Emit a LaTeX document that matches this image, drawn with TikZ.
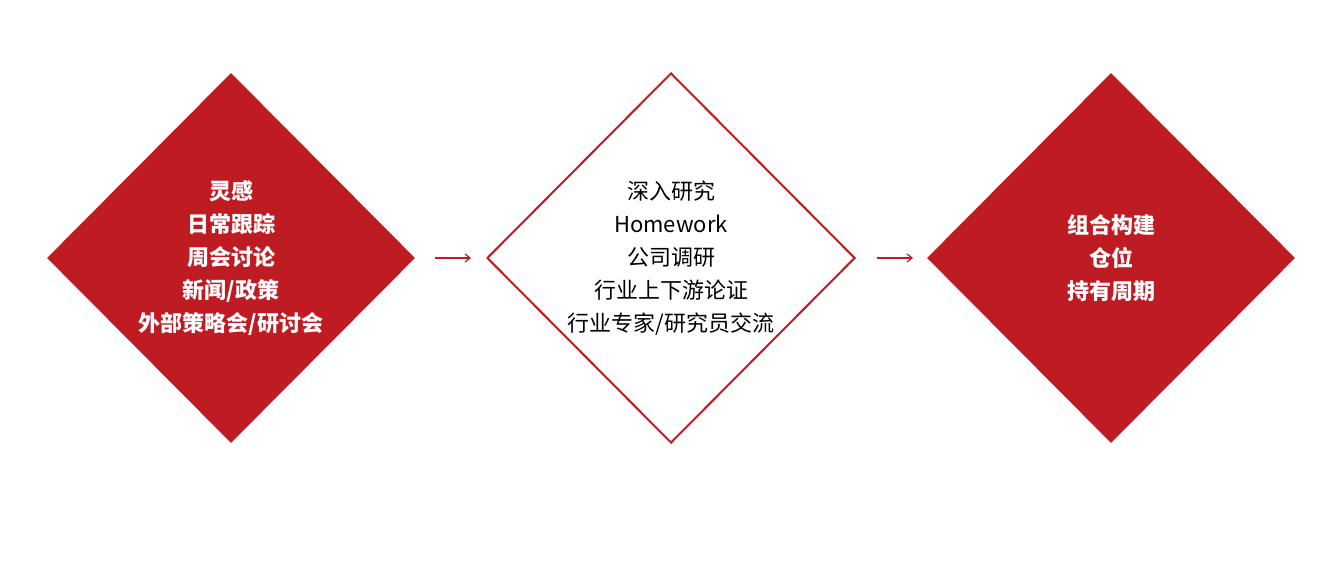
\documentclass[tikz,border=0pt]{standalone}
\usepackage{fontspec}
\setmainfont{Noto Sans CJK SC}
\usetikzlibrary{shapes.geometric,arrows.meta}
\definecolor{dred}{HTML}{BE1C22}
\begin{document}
\begin{tikzpicture}[x=1pt,y=-1pt,
  dia/.style={diamond,inner sep=0pt,minimum width=368pt,minimum height=370pt,align=center,font=\fontsize{22}{33}\selectfont},
  filled/.style={dia,fill=dred,text=white,font=\fontsize{22}{33}\selectfont\bfseries},
  open/.style={dia,draw=dred,line width=2pt,fill=white,text=black},
  arr/.style={draw=dred,line width=1.2pt,-{Straight Barb[length=5pt,width=8pt]}}]
\useasboundingbox (0,0) rectangle (1333,564);
\node[filled] (a) at (231,258) {灵感\\日常跟踪\\周会讨论\\新闻/政策\\外部策略会/研讨会};
\node[open] (b) at (671,258) {深入研究\\Homework\\公司调研\\行业上下游论证\\行业专家/研究员交流};
\node[filled] (c) at (1111,258) {\raisebox{0pt}{组合构建}\\仓位\\持有周期};
\coordinate (a1) at (435,258); \coordinate (a2) at (471,258);
\coordinate (b1) at (877,258); \coordinate (b2) at (913,258);
\draw[arr] (a1) -- (a2);
\draw[arr] (b1) -- (b2);
\end{tikzpicture}
\end{document}
